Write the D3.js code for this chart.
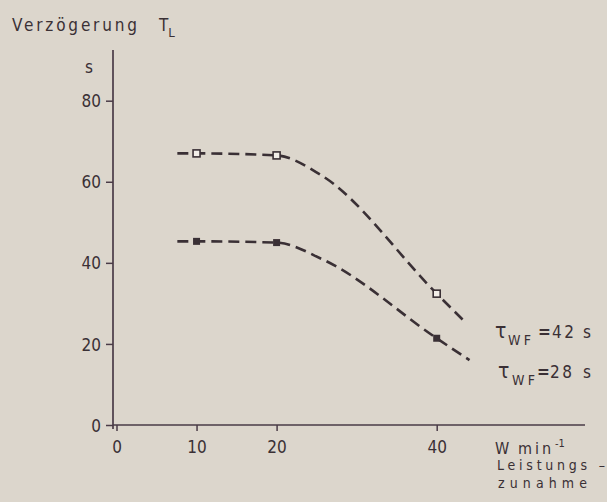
<!DOCTYPE html>
<html>
<head>
<meta charset="utf-8">
<script src="https://cdn.jsdelivr.net/npm/d3@7"></script>
<style>
  html, body { margin: 0; padding: 0; background: #dcd6cc; }
  svg { display: block; }
  text { font-family: "DejaVu Sans Condensed", "DejaVu Sans", sans-serif; fill: #3a3035; }
</style>
</head>
<body>
<svg id="chart" width="607" height="502"></svg>
<script>
// Delay T_L versus rate of power increase, two time constants
const xTicks = [0, 10, 20, 40];
const yTicks = [0, 20, 40, 60, 80];

// measured points (rate in W/min, delay in s)
const ratesMeasured = [10, 20, 40];
const delay42 = [67, 66.5, 32.4];
const delay28 = [45.3, 45, 21.4];

// drawn trend lines through the points, as traced
const trendRates42 = [7.6, 10, 20, 25.5, 40, 43.3];
const trendDelay42 = [67, 67, 66.5, 61.7, 32.4, 25.9];
const trendRates28 = [7.6, 10, 20, 25.8, 40, 44.1];
const trendDelay28 = [45.3, 45.3, 45, 40.8, 21.4, 16.0];

const seriesLabels = ["42", "28"];

const ink = "#3a3035";
const axisInk = "#4a3b47";

const svg = d3.select("#chart");

const x = d3.scaleLinear().domain([0, 40]).range([116.5, 436.7]);
const y = d3.scaleLinear().domain([0, 80]).range([425, 100.7]);
const axisX = 113;

// y axis
const yAxis = svg.append("g")
  .attr("transform", `translate(${axisX},0)`)
  .call(d3.axisLeft(y).tickValues(yTicks).tickSize(7).tickPadding(5).tickFormat(d3.format("d")));
yAxis.select(".domain").remove();
yAxis.selectAll(".tick line").attr("stroke", axisInk).attr("stroke-width", 1.5);
yAxis.selectAll(".tick text").attr("font-size", 17).attr("fill", ink)
  .attr("font-family", null).attr("dy", "0.36em");
svg.append("line")
  .attr("x1", axisX).attr("x2", axisX).attr("y1", 50).attr("y2", y(0) + 4)
  .attr("stroke", axisInk).attr("stroke-width", 1.7);

// x axis
const xAxis = svg.append("g")
  .attr("transform", `translate(0,${y(0)})`)
  .call(d3.axisBottom(x).tickValues(xTicks).tickSize(6).tickPadding(10).tickFormat(d3.format("d")));
xAxis.select(".domain").remove();
xAxis.selectAll(".tick line").attr("stroke", axisInk).attr("stroke-width", 1.5);
xAxis.selectAll(".tick text").attr("font-size", 17).attr("fill", ink).attr("font-family", null);
svg.append("line")
  .attr("x1", axisX).attr("x2", 585).attr("y1", y(0)).attr("y2", y(0))
  .attr("stroke", axisInk).attr("stroke-width", 1.7);

// dashed trend lines
const line = d3.line().x(d => x(d[0])).y(d => y(d[1])).curve(d3.curveMonotoneX);
[[trendRates42, trendDelay42], [trendRates28, trendDelay28]].forEach(([xs, ys]) => {
  svg.append("path")
    .attr("d", line(xs.map((r, i) => [r, ys[i]])))
    .attr("fill", "none")
    .attr("stroke", ink)
    .attr("stroke-width", 2.6)
    .attr("stroke-dasharray", "11,6");
});

// markers: open squares (42 s), filled squares (28 s)
const sq = 7;
svg.append("g").selectAll("rect")
  .data(ratesMeasured.map((r, i) => [r, delay42[i]]))
  .join("rect")
  .attr("x", d => x(d[0]) - sq / 2).attr("y", d => y(d[1]) - sq / 2)
  .attr("width", sq).attr("height", sq)
  .attr("fill", "#f2eee8").attr("stroke", ink).attr("stroke-width", 1.6);
svg.append("g").selectAll("rect")
  .data(ratesMeasured.map((r, i) => [r, delay28[i]]))
  .join("rect")
  .attr("x", d => x(d[0]) - sq / 2).attr("y", d => y(d[1]) - sq / 2)
  .attr("width", sq).attr("height", sq)
  .attr("fill", ink);

// axis titles
const title = svg.append("text").attr("x", 12).attr("y", 31).attr("font-size", 17);
title.append("tspan").text("Verzögerung").attr("textLength", 125).attr("lengthAdjust", "spacing");
title.append("tspan").attr("x", 159).text("T");
title.append("tspan").attr("dy", 6).attr("font-size", 13).text("L");

svg.append("text").attr("x", 85).attr("y", 73).attr("font-size", 17).text("s");

const unit = svg.append("text").attr("x", 495).attr("y", 454).attr("font-size", 16);
unit.append("tspan").text("W").attr("textLength", 16);
unit.append("tspan").attr("x", 518).text("min").attr("textLength", 33).attr("lengthAdjust", "spacing");
unit.append("tspan").attr("dy", -7).attr("dx", 1).attr("font-size", 11).text("-1");

svg.append("text").attr("x", 497).attr("y", 470).attr("font-size", 14)
  .text("Leistungs –").attr("textLength", 108).attr("lengthAdjust", "spacing");
svg.append("text").attr("x", 498).attr("y", 488).attr("font-size", 14)
  .text("zunahme").attr("textLength", 89).attr("lengthAdjust", "spacing");

// series labels: τ_WF = value s
const labelPos = [
  { base: 338, tau: 495, sub: 508, eq: 538, num: 552, unit: 583 },
  { base: 378, tau: 498, sub: 512, eq: 537, num: 550, unit: 583 }
];
seriesLabels.forEach((v, i) => {
  const p = labelPos[i];
  const g = svg.append("g").attr("font-size", 17);
  g.append("text").attr("x", p.tau).attr("y", p.base).attr("font-size", 21)
    .attr("font-family", "DejaVu Serif").text("τ");
  g.append("text").attr("x", p.sub).attr("y", p.base + 7).attr("font-size", 14)
    .text("WF").attr("textLength", 23).attr("lengthAdjust", "spacing");
  g.append("text").attr("x", p.eq).attr("y", p.base).attr("font-weight", "bold").text("=");
  g.append("text").attr("x", p.num).attr("y", p.base)
    .text(v).attr("textLength", 22).attr("lengthAdjust", "spacing");
  g.append("text").attr("x", p.unit).attr("y", p.base).text("s");
});
</script>
</body>
</html>
